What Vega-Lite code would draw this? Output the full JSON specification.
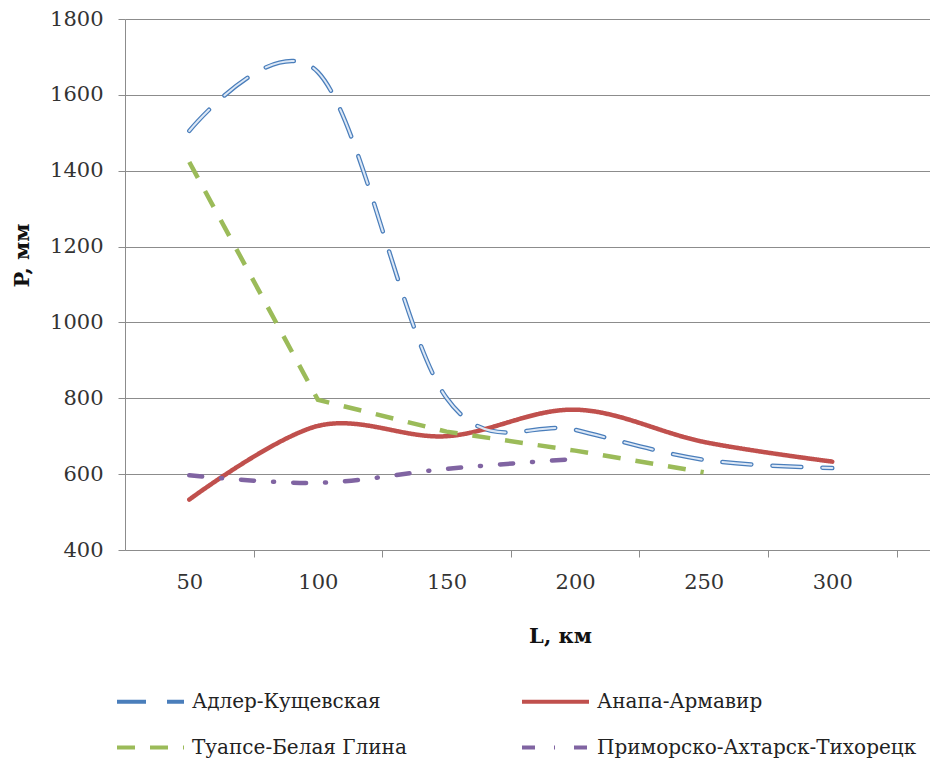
{
  "$schema": "https://vega.github.io/schema/vega-lite/v6.json",
  "width": 805,
  "height": 531,
  "autosize": {"type": "none"},
  "padding": {"left": 125, "top": 19, "right": 0, "bottom": 214},
  "background": "white",
  "config": {"view": {"stroke": null}, "font": "DejaVu Serif"},
  "data": {
    "values": [
      {"series": "Адлер-Кущевская", "L": 50, "P": 1505},
      {"series": "Адлер-Кущевская", "L": 100, "P": 1660},
      {"series": "Адлер-Кущевская", "L": 150, "P": 801},
      {"series": "Адлер-Кущевская", "L": 200, "P": 717},
      {"series": "Адлер-Кущевская", "L": 250, "P": 638},
      {"series": "Адлер-Кущевская", "L": 300, "P": 616},
      {"series": "Анапа-Армавир", "L": 50, "P": 533},
      {"series": "Анапа-Армавир", "L": 100, "P": 727},
      {"series": "Анапа-Армавир", "L": 150, "P": 700},
      {"series": "Анапа-Армавир", "L": 200, "P": 770},
      {"series": "Анапа-Армавир", "L": 250, "P": 685},
      {"series": "Анапа-Армавир", "L": 300, "P": 633},
      {"series": "Туапсе-Белая Глина", "L": 50, "P": 1423},
      {"series": "Туапсе-Белая Глина", "L": 100, "P": 796},
      {"series": "Туапсе-Белая Глина", "L": 150, "P": 712},
      {"series": "Туапсе-Белая Глина", "L": 200, "P": 662},
      {"series": "Туапсе-Белая Глина", "L": 250, "P": 605},
      {"series": "Приморско-Ахтарск-Тихорецк", "L": 50, "P": 597},
      {"series": "Приморско-Ахтарск-Тихорецк", "L": 100, "P": 577},
      {"series": "Приморско-Ахтарск-Тихорецк", "L": 150, "P": 614},
      {"series": "Приморско-Ахтарск-Тихорецк", "L": 200, "P": 640}
    ]
  },
  "encoding": {
    "x": {
      "field": "L",
      "type": "quantitative",
      "scale": {"domain": [25, 338], "nice": false, "zero": false},
      "axis": {
        "values": [50, 75, 100, 125, 150, 175, 200, 225, 250, 275, 300, 325],
        "labelExpr": "datum.value % 50 == 0 ? datum.label : ''",
        "tickOpacity": {"condition": {"test": "datum.value % 50 == 0", "value": 0}, "value": 1},
        "grid": false,
        "tickSize": 7,
        "tickColor": "#8c8c8c",
        "domainColor": "#8c8c8c",
        "labelFont": "DejaVu Serif",
        "labelFontSize": 21,
        "labelColor": "#333333",
        "labelPadding": 14,
        "labelOverlap": false,
        "labelFlush": false,
        "title": "L, км",
        "titleFont": "DejaVu Serif",
        "titleFontSize": 21,
        "titleFontWeight": "bold",
        "titleColor": "#111111",
        "titleX": 435,
        "titleY": 92,
        "titleBaseline": "alphabetic"
      }
    },
    "y": {
      "field": "P",
      "type": "quantitative",
      "scale": {"domain": [400, 1800], "nice": false, "zero": false},
      "axis": {
        "values": [400, 600, 800, 1000, 1200, 1400, 1600, 1800],
        "format": "d",
        "grid": true,
        "gridColor": "#8c8c8c",
        "tickSize": 7,
        "tickColor": "#8c8c8c",
        "domainColor": "#8c8c8c",
        "labelFont": "DejaVu Serif",
        "labelFontSize": 21,
        "labelColor": "#333333",
        "labelPadding": 15,
        "title": "P, мм",
        "titleFont": "DejaVu Serif",
        "titleFontSize": 21,
        "titleFontWeight": "bold",
        "titleColor": "#111111",
        "titleX": -103,
        "titleY": 236,
        "titleAngle": 270,
        "titleAlign": "center",
        "titleBaseline": "middle"
      }
    }
  },
  "layer": [
    {
      "transform": [{"filter": "datum.series != 'Туапсе-Белая Глина'"}],
      "mark": {"type": "line", "interpolate": "cardinal", "strokeWidth": 4.5, "strokeCap": "round"},
      "encoding": {
        "color": {
          "field": "series",
          "type": "nominal",
          "scale": {
            "domain": ["Адлер-Кущевская", "Туапсе-Белая Глина", "Анапа-Армавир", "Приморско-Ахтарск-Тихорецк"],
            "range": ["#4a7ebb", "#9bbb59", "#c0504d", "#8064a2"]
          },
          "legend": {
            "orient": "none",
            "legendX": -10,
            "legendY": 647,
            "columns": 2,
            "title": null,
            "symbolType": "stroke",
            "symbolSize": 4489,
            "symbolStrokeWidth": 4,
            "labelFont": "DejaVu Serif",
            "labelFontSize": 20,
            "labelColor": "#222222",
            "labelOffset": 6,
            "labelLimit": 500,
            "columnPadding": 107,
            "rowPadding": -22
          }
        },
        "strokeDash": {
          "field": "series",
          "type": "nominal",
          "scale": {
            "domain": ["Адлер-Кущевская", "Туапсе-Белая Глина", "Анапа-Армавир", "Приморско-Ахтарск-Тихорецк"],
            "range": [[29, 21], [18, 15], [1, 0], [13, 19, 1, 19]]
          }
        }
      }
    },
    {
      "transform": [{"filter": "datum.series == 'Туапсе-Белая Глина'"}],
      "mark": {"type": "line", "interpolate": "linear", "strokeWidth": 4.5, "strokeCap": "butt"},
      "encoding": {
        "color": {"field": "series", "type": "nominal"},
        "strokeDash": {"field": "series", "type": "nominal"}
      }
    },
    {
      "transform": [{"filter": "datum.series == 'Адлер-Кущевская'"}],
      "mark": {"type": "line", "interpolate": "cardinal", "stroke": "#dde8f6", "strokeWidth": 2, "strokeDash": [29, 21], "strokeCap": "round"},
      "encoding": {}
    }
  ]
}
